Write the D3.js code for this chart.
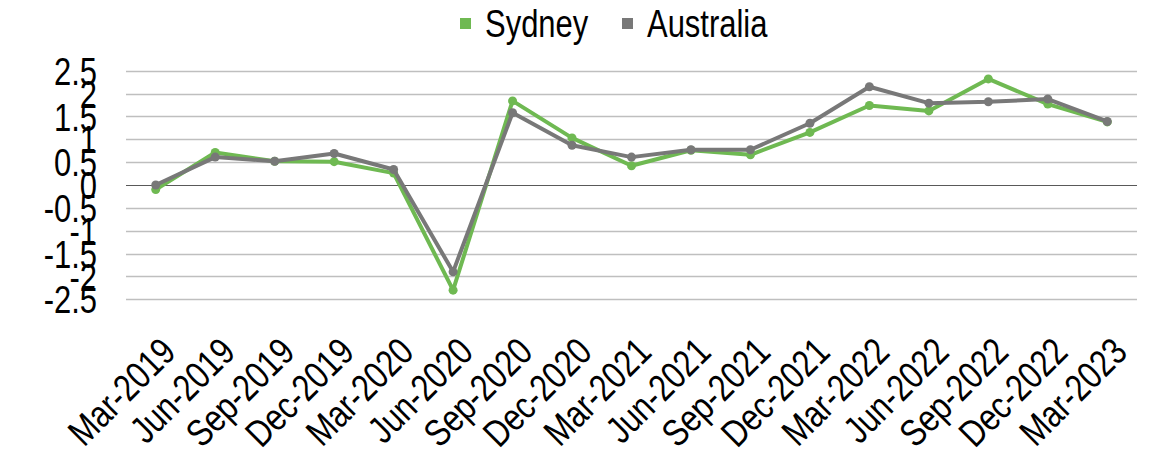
<!DOCTYPE html>
<html>
<head>
<meta charset="utf-8">
<script src="https://cdn.jsdelivr.net/npm/d3@7"></script>
<style>
  html, body { margin: 0; padding: 0; background: #fff; }
  svg { display: block; }
  text { font-family: "Liberation Sans", Arial, sans-serif; fill: #000; }
</style>
</head>
<body>
<svg id="chart" width="1157" height="459"></svg>
<script>
const categories = ["Mar-2019","Jun-2019","Sep-2019","Dec-2019","Mar-2020","Jun-2020","Sep-2020","Dec-2020","Mar-2021","Jun-2021","Sep-2021","Dec-2021","Mar-2022","Jun-2022","Sep-2022","Dec-2022","Mar-2023"];
const sydney    = [-0.10, 0.71, 0.52, 0.51, 0.26, -2.30, 1.84, 1.03, 0.42, 0.76, 0.66, 1.15, 1.74, 1.62, 2.32, 1.77, 1.38];
const australia = [0.00, 0.61, 0.52, 0.69, 0.34, -1.90, 1.58, 0.87, 0.61, 0.77, 0.77, 1.35, 2.15, 1.79, 1.82, 1.88, 1.39];
const yTickValues = [2.5, 2, 1.5, 1, 0.5, 0, -0.5, -1, -1.5, -2, -2.5];
const yTickLabels = ["2.5","2","1.5","1","0.5","0","-0.5","-1","-1.5","-2","-2.5"];
const seriesNames = ["Sydney", "Australia"];
const seriesColors = ["#6fb952", "#787878"];

const FS = 38, SX = 0.815;
const svg = d3.select("#chart");
const x = d3.scalePoint().domain(categories).range([126, 1137]).padding(0.5);
const y = d3.scaleLinear().domain([-2.5, 2.5]).range([299.3, 70.7]);

// gridlines
svg.append("g").selectAll("line").data(yTickValues).join("line")
  .attr("x1", 126).attr("x2", 1137)
  .attr("y1", d => Math.round(y(d)) + 0.5).attr("y2", d => Math.round(y(d)) + 0.5)
  .attr("stroke", d => d === 0 ? "#595959" : "#bfbfbf")
  .attr("stroke-width", d => d === 0 ? 1 : 1.5);

// y axis
const yAxis = svg.append("g").attr("transform", "translate(97,0)")
  .call(d3.axisLeft(y).tickValues(yTickValues).tickSize(0).tickPadding(0)
    .tickFormat((d, i) => yTickLabels[i]));
yAxis.select(".domain").remove();
yAxis.selectAll("text").attr("font-size", FS).attr("dy", "0.36em").attr("x", 0)
  .attr("transform", `scale(${SX},1)`)
  .style("font-family", "'Liberation Sans', Arial, sans-serif").attr("fill", "#000");

// x axis
const xAxis = svg.append("g").attr("transform", "translate(0,0)")
  .call(d3.axisBottom(x).tickSize(0).tickPadding(0));
xAxis.select(".domain").remove();
xAxis.selectAll("text")
  .attr("font-size", FS).attr("y", 0).attr("dy", 0)
  .attr("text-anchor", "end")
  .attr("transform", `translate(21.5,354) rotate(-45) scale(${SX},1)`)
  .style("font-family", "'Liberation Sans', Arial, sans-serif").attr("fill", "#000");

// lines
const seriesData = [sydney, australia];
const line = d3.line().x((d, i) => x(categories[i])).y(d => y(d));
seriesData.forEach((vals, si) => {
  const g = svg.append("g");
  g.append("path").datum(vals).attr("d", line)
    .attr("fill", "none").attr("stroke", seriesColors[si]).attr("stroke-width", 4)
    .attr("stroke-linejoin", "round").attr("stroke-linecap", "round");
  g.selectAll("circle").data(vals).join("circle")
    .attr("cx", (d, i) => x(categories[i])).attr("cy", d => y(d))
    .attr("r", 4.5).attr("fill", seriesColors[si]);
});

// legend
const legendX = [460, 622];
seriesNames.forEach((name, i) => {
  svg.append("rect").attr("x", legendX[i]).attr("y", 18).attr("width", 11).attr("height", 11).attr("fill", seriesColors[i]);
  svg.append("text").attr("x", 0).attr("y", 0)
    .attr("transform", `translate(${legendX[i] + 25},37) scale(${SX},1)`)
    .attr("font-size", FS).text(name);
});
</script>
</body>
</html>
